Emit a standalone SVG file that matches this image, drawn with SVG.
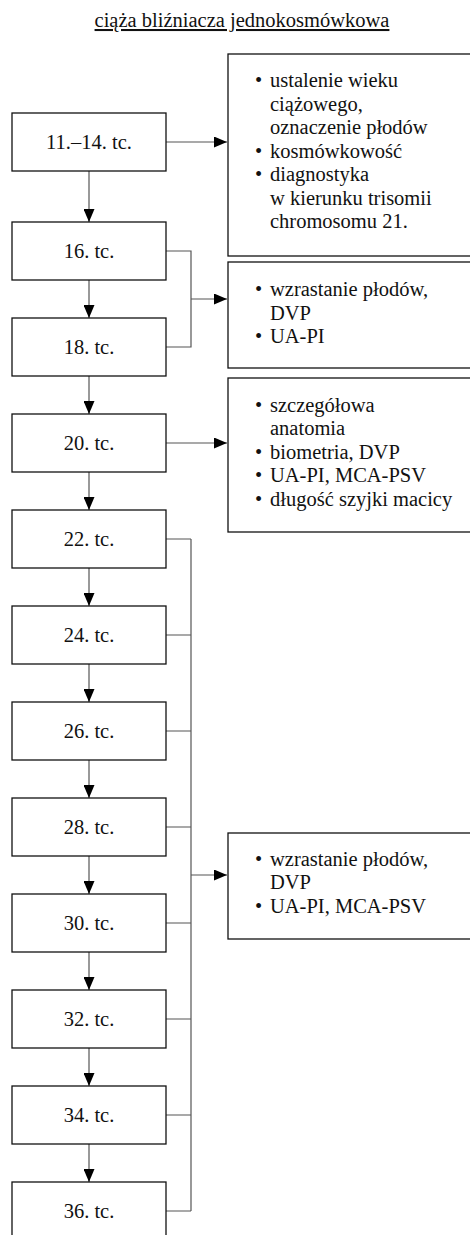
<svg xmlns="http://www.w3.org/2000/svg" width="470" height="1235" viewBox="0 0 470 1235" font-family="'Liberation Serif', 'Times New Roman', serif" font-size="20.5">
<style>
text{font-family:"Liberation Serif","Times New Roman",serif;font-size:20.5px;fill:#111}
.box{fill:#fff;stroke:#111;stroke-width:1.3}
.lbl{text-anchor:middle}
.con{fill:none;stroke:#555;stroke-width:1.2}
</style>
<defs>
<marker id="ah" markerUnits="userSpaceOnUse" markerWidth="13" markerHeight="11" refX="13" refY="5.5" orient="auto">
<path d="M0,0 L13,5.5 L0,11 z" fill="#000"/>
</marker>
</defs>
<rect width="470" height="1235" fill="#fff"/>
<text x="242" y="27" class="lbl" text-decoration="underline">ciąża bliźniacza jednokosmówkowa</text>

<g id="connectors">
<path class="con" d="M89,171 V222" marker-end="url(#ah)"/>
<path class="con" d="M89,280 V318" marker-end="url(#ah)"/>
<path class="con" d="M89,376 V414" marker-end="url(#ah)"/>
<path class="con" d="M89,472 V510" marker-end="url(#ah)"/>
<path class="con" d="M89,568 V606" marker-end="url(#ah)"/>
<path class="con" d="M89,664 V702" marker-end="url(#ah)"/>
<path class="con" d="M89,760 V798" marker-end="url(#ah)"/>
<path class="con" d="M89,856 V894" marker-end="url(#ah)"/>
<path class="con" d="M89,952 V990" marker-end="url(#ah)"/>
<path class="con" d="M89,1048 V1086" marker-end="url(#ah)"/>
<path class="con" d="M89,1144 V1182" marker-end="url(#ah)"/>
<path class="con" d="M166,142 H227" marker-end="url(#ah)"/>
<path class="con" d="M166,251 H191 V347 H166"/>
<path class="con" d="M191,299 H227" marker-end="url(#ah)"/>
<path class="con" d="M166,443 H227" marker-end="url(#ah)"/>
<path class="con" d="M191,539 V1211 M166,539 H191 M166,635 H191 M166,731 H191 M166,827 H191 M166,923 H191 M166,1019 H191 M166,1115 H191 M166,1211 H191"/>
<path class="con" d="M191,875 H227" marker-end="url(#ah)"/>
</g>

<g id="n1114"><rect class="box" x="12" y="113" width="154" height="58"/><text class="lbl" x="89" y="149">11.–14. tc.</text></g>
<g id="n16"><rect class="box" x="12" y="222" width="154" height="58"/><text class="lbl" x="89" y="258">16. tc.</text></g>
<g id="n18"><rect class="box" x="12" y="318" width="154" height="58"/><text class="lbl" x="89" y="354">18. tc.</text></g>
<g id="n20"><rect class="box" x="12" y="414" width="154" height="58"/><text class="lbl" x="89" y="450">20. tc.</text></g>
<g id="n22"><rect class="box" x="12" y="510" width="154" height="58"/><text class="lbl" x="89" y="546">22. tc.</text></g>
<g id="n24"><rect class="box" x="12" y="606" width="154" height="58"/><text class="lbl" x="89" y="642">24. tc.</text></g>
<g id="n26"><rect class="box" x="12" y="702" width="154" height="58"/><text class="lbl" x="89" y="738">26. tc.</text></g>
<g id="n28"><rect class="box" x="12" y="798" width="154" height="58"/><text class="lbl" x="89" y="834">28. tc.</text></g>
<g id="n30"><rect class="box" x="12" y="894" width="154" height="58"/><text class="lbl" x="89" y="930">30. tc.</text></g>
<g id="n32"><rect class="box" x="12" y="990" width="154" height="58"/><text class="lbl" x="89" y="1026">32. tc.</text></g>
<g id="n34"><rect class="box" x="12" y="1086" width="154" height="58"/><text class="lbl" x="89" y="1122">34. tc.</text></g>
<g id="n36"><rect class="box" x="12" y="1182" width="154" height="70"/><text class="lbl" x="89" y="1218">36. tc.</text></g>

<g id="infoA"><rect class="box" x="228" y="54" width="260" height="202"/>
<text x="255" y="87">•</text><text x="270" y="87">ustalenie wieku</text>
<text x="270" y="110.5">ciążowego,</text>
<text x="270" y="134">oznaczenie płodów</text>
<text x="255" y="157.5">•</text><text x="270" y="157.5">kosmówkowość</text>
<text x="255" y="181">•</text><text x="270" y="181">diagnostyka</text>
<text x="270" y="204.5">w kierunku trisomii</text>
<text x="270" y="228">chromosomu 21.</text>
</g>
<g id="infoB"><rect class="box" x="228" y="262" width="260" height="106"/>
<text x="255" y="296">•</text><text x="270" y="296">wzrastanie płodów,</text>
<text x="270" y="319.5">DVP</text>
<text x="255" y="343">•</text><text x="270" y="343">UA-PI</text>
</g>
<g id="infoC"><rect class="box" x="228" y="378" width="260" height="154"/>
<text x="255" y="411.5">•</text><text x="270" y="411.5">szczegółowa</text>
<text x="270" y="435">anatomia</text>
<text x="255" y="458.5">•</text><text x="270" y="458.5">biometria, DVP</text>
<text x="255" y="482">•</text><text x="270" y="482">UA-PI, MCA-PSV</text>
<text x="255" y="505.5">•</text><text x="270" y="505.5">długość szyjki macicy</text>
</g>
<g id="infoD"><rect class="box" x="228" y="833" width="260" height="106"/>
<text x="255" y="865.5">•</text><text x="270" y="865.5">wzrastanie płodów,</text>
<text x="270" y="889">DVP</text>
<text x="255" y="912.5">•</text><text x="270" y="912.5">UA-PI, MCA-PSV</text>
</g>
</svg>
